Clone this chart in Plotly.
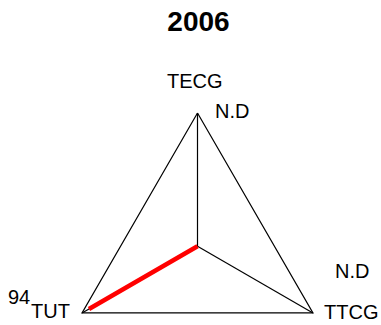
import math
import plotly.graph_objects as go

title = "2006"
categories = ["TECG", "TUT", "TTCG"]
values = [None, 94, None]   # None = N.D (no data)
r_max = 100

W, H = 381, 325
center_px = (197.5, 246.3)      # pixel position of the radar centre
px_per_unit = 133.3 / r_max     # radius of the frame in pixels / r_max

angles = [90 + 120 * i for i in range(len(categories))]


def polar_xy(r, ang):
    a = math.radians(ang)
    return r * math.cos(a), r * math.sin(a)


labels = ["N.D" if v is None else str(v) for v in values]
r_vals = [0 if v is None else v for v in values]

fig = go.Figure()

# outer frame (triangle at r_max)
fx, fy = zip(*[polar_xy(r_max, a) for a in angles + angles[:1]])
fig.add_trace(go.Scatter(x=fx, y=fy, mode="lines", line=dict(color="black", width=1.2),
                         hoverinfo="skip", showlegend=False))

# spokes
for a in angles:
    sx, sy = zip(polar_xy(0, a), polar_xy(r_max, a))
    fig.add_trace(go.Scatter(x=sx, y=sy, mode="lines", line=dict(color="black", width=1.2),
                             hoverinfo="skip", showlegend=False))

# data polygon
dx, dy = zip(*[polar_xy(r, a) for r, a in zip(r_vals + r_vals[:1], angles + angles[:1])])
fig.add_trace(go.Scatter(x=dx, y=dy, mode="lines", line=dict(color="#ff0000", width=4.5),
                         hoverinfo="skip", showlegend=False))

font = dict(family="Liberation Sans, Arial", size=20, color="black")
# (xanchor, xshift, yshift) for category labels and value labels, relative to vertex
cat_style = {"TECG": ("center", -3, 32), "TUT": ("right", -10, 2), "TTCG": ("left", 9, 1)}
val_style = {"TECG": ("center", 34, 2), "TUT": ("center", -63, 16), "TTCG": ("center", 39, 42)}

annotations = []
for cat, lab, a in zip(categories, labels, angles):
    vx, vy = polar_xy(r_max, a)
    xa, xs, ys = cat_style[cat]
    annotations.append(dict(x=vx, y=vy, text=cat, showarrow=False, xanchor=xa,
                            yanchor="middle", xshift=xs, yshift=ys, font=font))
    xa, xs, ys = val_style[cat]
    annotations.append(dict(x=vx, y=vy, text=lab, showarrow=False, xanchor=xa,
                            yanchor="middle", xshift=xs, yshift=ys, font=font))

cx, cy = center_px
xr = [-cx / px_per_unit, (W - cx) / px_per_unit]
yr = [-(H - cy) / px_per_unit, cy / px_per_unit]

fig.update_layout(
    width=W, height=H,
    margin=dict(l=0, r=0, t=0, b=0),
    paper_bgcolor="white", plot_bgcolor="white",
    title=dict(text="<b>" + title + "</b>", x=198.5 / W, xanchor="center",
               y=1 - 21 / H, yanchor="middle",
               font=dict(family="Liberation Sans, Arial", size=28, color="black")),
    xaxis=dict(range=xr, visible=False, fixedrange=True),
    yaxis=dict(range=yr, visible=False, fixedrange=True),
    annotations=annotations,
)

fig.write_html(
    "out.html",
    config={"displayModeBar": False},
    post_script="document.body.style.margin='0px';document.body.style.overflow='hidden';",
)
